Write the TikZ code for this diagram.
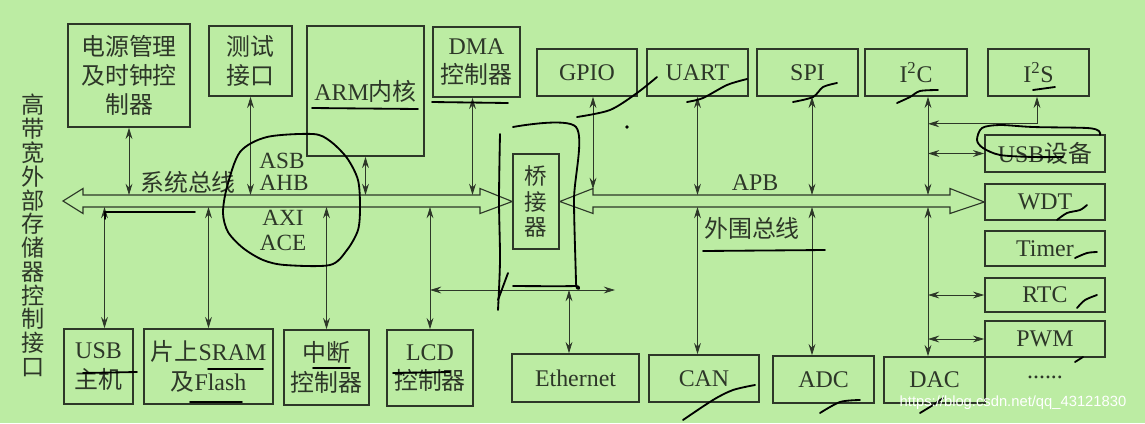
\documentclass[tikz,border=0pt]{standalone}
\usepackage{fontspec}
\setmainfont{Liberation Serif}
\newfontfamily\cjk{Noto Sans CJK SC}
\newfontfamily\wmfont{Liberation Sans}
\usetikzlibrary{arrows.meta,calc}

\definecolor{bggreen}{RGB}{188,236,163}
\definecolor{ink}{RGB}{45,55,40}
\newcommand{\zh}[1]{{\cjk #1}}
\newcommand{\boxfont}{\fontsize{17}{20.8}\selectfont}

\tikzset{
  unit/.style={draw=ink, line width=1.1pt, text=ink, inner sep=0pt, align=center, font=\boxfont},
  dar/.style={draw=ink, line width=0.6pt, {Stealth[length=2.8mm,width=1.7mm]}-{Stealth[length=2.8mm,width=1.7mm]}},
  busline/.style={draw=ink, line width=0.8pt, line join=miter},
  buslabel/.style={text=ink, font=\boxfont, inner sep=0pt, align=center},
  busname/.style={text=ink, font=\fontsize{16.5}{18}\selectfont, inner sep=0pt},
  pen/.style={draw=black, line width=1.3pt, line cap=round, line join=round}
}

\begin{document}
\begin{tikzpicture}[x=0.025cm, y=-0.025cm]
    \useasboundingbox (0,0) rectangle (1145,423);
    \fill[bggreen] (0,0) rectangle (1145,423);

    % Memory controller label (vertical)
    \node[text=ink, font=\cjk\fontsize{16.5}{16.9}\selectfont, align=center, inner sep=0pt] (memctrl) at (33,235.5)
        {高\\带\\宽\\外\\部\\存\\储\\器\\控\\制\\接\\口};

    % Upper units on the system bus
    \node[unit, minimum width=3.05cm, minimum height=2.575cm] (power) at (129,75.5) {\zh{电源管理}\\\zh{及时钟控}\\\zh{制器}};
    \node[unit, minimum width=2.075cm, minimum height=1.75cm] (test) at (250.5,61) {\zh{测试}\\\zh{接口}};
    \node[unit, minimum width=2.925cm, minimum height=3.25cm] (arm) at (365.5,91) {ARM\zh{内核}};
    \node[unit, minimum width=2.175cm, minimum height=1.75cm] (dma) at (476.5,62) {DMA\\\zh{控制器}};

    % Lower units on the system bus
    \node[unit, minimum width=1.725cm, minimum height=1.875cm] (usbh) at (98.5,366.5) {USB\\\zh{主机}};
    \node[unit, minimum width=3.225cm, minimum height=1.875cm] (sram) at (208.5,366.5) {\zh{片上}SRAM\\\zh{及}Flash};
    \node[unit, minimum width=2.125cm, minimum height=1.875cm] (intc) at (326.5,367.5) {\zh{中断}\\\zh{控制器}};
    \node[unit, minimum width=2.15cm, minimum height=1.9cm] (lcd) at (430,368) {LCD\\\zh{控制器}};

    % Bridge
    \node[unit, minimum width=1.15cm, minimum height=2.375cm, font=\fontsize{16}{18}\selectfont] (bridge) at (536,201.5) {\zh{桥}\\\zh{接}\\\zh{器}};

    % Peripherals on the APB
    \node[unit, minimum width=2.5cm, minimum height=1.175cm] (gpio) at (587,72.5) {GPIO};
    \node[unit, minimum width=2.525cm, minimum height=1.175cm] (uart) at (697.5,72.5) {UART};
    \node[unit, minimum width=2.525cm, minimum height=1.175cm] (spi) at (807.5,72.5) {SPI};
    \node[unit, minimum width=2.55cm, minimum height=1.175cm] (i2c) at (916,72.5) {I\textsuperscript{2}C};
    \node[unit, minimum width=2.525cm, minimum height=1.175cm] (i2s) at (1038.5,72.5) {I\textsuperscript{2}S};
    \node[unit, minimum width=3cm, minimum height=0.925cm] (usbdev) at (1045,153.5) {USB\zh{设备}};
    \node[unit, minimum width=3cm, minimum height=0.9cm] (wdt) at (1045,202) {WDT};
    \node[unit, minimum width=3cm, minimum height=0.875cm] (timer) at (1045,248.5) {Timer};
    \node[unit, minimum width=3cm, minimum height=0.85cm] (rtc) at (1045,295) {RTC};
    \node[unit, minimum width=3cm, minimum height=0.9cm] (pwm) at (1045,339) {PWM};
    \node[buslabel] (more) at (1045,377) {......};
    \node[unit, minimum width=3.175cm, minimum height=1.2cm] (eth) at (575.5,378) {Ethernet};
    \node[unit, minimum width=2.75cm, minimum height=1.175cm] (can) at (704,378.5) {CAN};
    \node[unit, minimum width=2.525cm, minimum height=1.175cm] (adc) at (823.5,379.5) {ADC};
    \node[unit, minimum width=2.525cm, minimum height=1.15cm] (dac) at (934.5,380) {DAC};

    % Buses (hollow double arrows)
    \coordinate (busT) at (0,195);
    \coordinate (busB) at (0,207);
    \draw[busline] (83,195) -- (480,195) -- (480,188.5) -- (bridge.west) -- (480,213.5) -- (480,207)
        -- (83,207) -- (83,213.5) -- (63,201) -- (83,188.5) -- cycle;
    \draw[busline] (593,195) -- (950,195) -- (950,188.5) -- (wdt.west) -- (950,213.5) -- (950,207)
        -- (593,207) -- (593,213.5) -- (bridge.east) -- (593,188.5) -- cycle;

    % Bus labels
    \node[buslabel] (sysbus) at (188,182) {\zh{系统总线}};
    \node[busname] (asb) at (282,161) {ASB};
    \node[busname] (ahb) at (284,183) {AHB};
    \node[busname] (axi) at (283,218) {AXI};
    \node[busname] (ace) at (283,243) {ACE};
    \node[buslabel] (apb) at (755,183) {APB};
    \node[buslabel] (perbus) at (752,228) {\zh{外围总线}};

    % System bus connections
    \draw[dar] (power.south) -- (power.south |- busT);
    \draw[dar] (test.south) -- (test.south |- busT);
    \draw[dar] (arm.south) -- (arm.south |- busT);
    \coordinate (dmadrop) at ($(dma.south)+(-4,0)$);
    \draw[dar] (dmadrop) -- (dmadrop |- busT);
    \coordinate (usbhtop) at ($(usbh.north)+(6,0)$);
    \draw[dar] (usbhtop |- busB) -- (usbhtop);
    \draw[dar] (sram.north |- busB) -- (sram.north);
    \draw[dar] (intc.north |- busB) -- (intc.north);
    \draw[dar] (lcd.north |- busB) -- (lcd.north);

    % APB connections
    \coordinate (gpiodrop) at ($(gpio.south)+(6,0)$);
    \draw[dar] (gpiodrop) -- (gpiodrop |- 0,189);
    \draw[dar] (uart.south) -- (uart.south |- busT);
    \coordinate (spidrop) at ($(spi.south)+(4.5,0)$);
    \draw[dar] (spidrop) -- (spidrop |- busT);
    \coordinate (i2cdrop) at ($(i2c.south)+(12,0)$);
    \draw[dar] (i2cdrop) -- (i2cdrop |- busT);
    \draw[dar] (uart.south |- busB) -- (uart.south |- can.north);
    \draw[dar] (spidrop |- busB) -- (spidrop |- adc.north);
    \draw[dar] (i2cdrop |- busB) -- (i2cdrop |- dac.north);
    \coordinate (i2sfeed) at ($(i2s.south)+(-1.5,27)$);
    \draw[dar] (i2cdrop |- i2sfeed) -- (i2sfeed) -- (i2s.south -| i2sfeed);
    \draw[dar] (i2cdrop |- usbdev.west) -- (usbdev.west);
    \draw[dar] (i2cdrop |- rtc.west) -- (rtc.west);
    \draw[dar] (i2cdrop |- pwm.west) -- (pwm.west);

    % Ethernet link below the bridge
    \coordinate (tapL) at (lcd.north |- 0,290);
    \coordinate (tapR) at (615,290);
    \draw[dar] (tapL) -- (tapR);
    \coordinate (ethdrop) at ($(eth.north)+(-6.5,0)$);
    \draw[dar] (ethdrop |- tapL) -- (ethdrop);

    % Hand-drawn marks
    \draw[pen] plot[smooth cycle] coordinates {(313,134) (267,137) (240,152) (227,187) (223,213) (228,232) (243,248)
        (263,260) (285,265) (330,265) (347,250) (358,230) (360,207) (358,180) (347,158) (330,141)};
    \draw[pen] (312,108) -- (418,109);
    \draw[pen] (432,102) -- (508,103);
    \draw[pen] (105,219) -- (105,212) -- (195,212);
    \draw[pen] (83,373) -- (137,372);
    \draw[pen] (208,369) -- (263,369);
    \draw[pen] (190,402) -- (242,402);
    \draw[pen] (313,368) -- (350,368);
    \draw[pen] (393,373) -- (450,372);
    \draw[pen] plot[smooth] coordinates {(500,134) (499,200) (500,260) (498,310)};
    \draw[pen] (498,300) -- (508,273);
    \draw[pen] plot[smooth] coordinates {(513,127) (576,127) (574,200) (576,283) (575,286) (513,286)};
    \draw[pen] plot[smooth] coordinates {(577,117) (610,110) (637,93) (657,77)};
    \draw[pen] plot[smooth] coordinates {(687,102) (703,98) (727,85) (747,79)};
    \draw[pen] plot[smooth] coordinates {(793,102) (813,97) (823,87) (837,83)};
    \draw[pen] plot[smooth] coordinates {(897,103) (910,97) (920,91) (938,90)};
    \draw[pen] (1033,90) -- (1055,87);
    \draw[pen] plot[smooth] coordinates {(1100,135) (1099,131) (1087,128) (1033,127) (1000,125) (982,128)
        (977,140) (983,148) (1000,155) (1033,157) (1063,157)};
    \draw[pen] plot[smooth] coordinates {(1057,220) (1067,213) (1080,210) (1087,205)};
    \draw[pen] plot[smooth] coordinates {(1075,258) (1087,253) (1097,252)};
    \draw[pen] plot[smooth] coordinates {(1077,308) (1085,300) (1097,295)};
    \draw[pen] (1075,362) -- (1083,357);
    \draw[pen] plot[smooth] coordinates {(683,420) (713,400) (733,390) (755,385)};
    \draw[pen] plot[smooth] coordinates {(820,413) (840,402) (860,400)};
    \draw[pen] plot[smooth] coordinates {(920,413) (933,405) (943,398)};
    \draw[pen] (703,251) -- (825,250);
    \fill[black] (627,127) circle[radius=1.3pt];

    % Watermark
    \node[font=\wmfont\fontsize{10.5}{12}\selectfont, text=white, inner sep=0pt] (mark) at (1013,403) {https://blog.csdn.net/qq\_43121830};
\end{tikzpicture}
\end{document}
